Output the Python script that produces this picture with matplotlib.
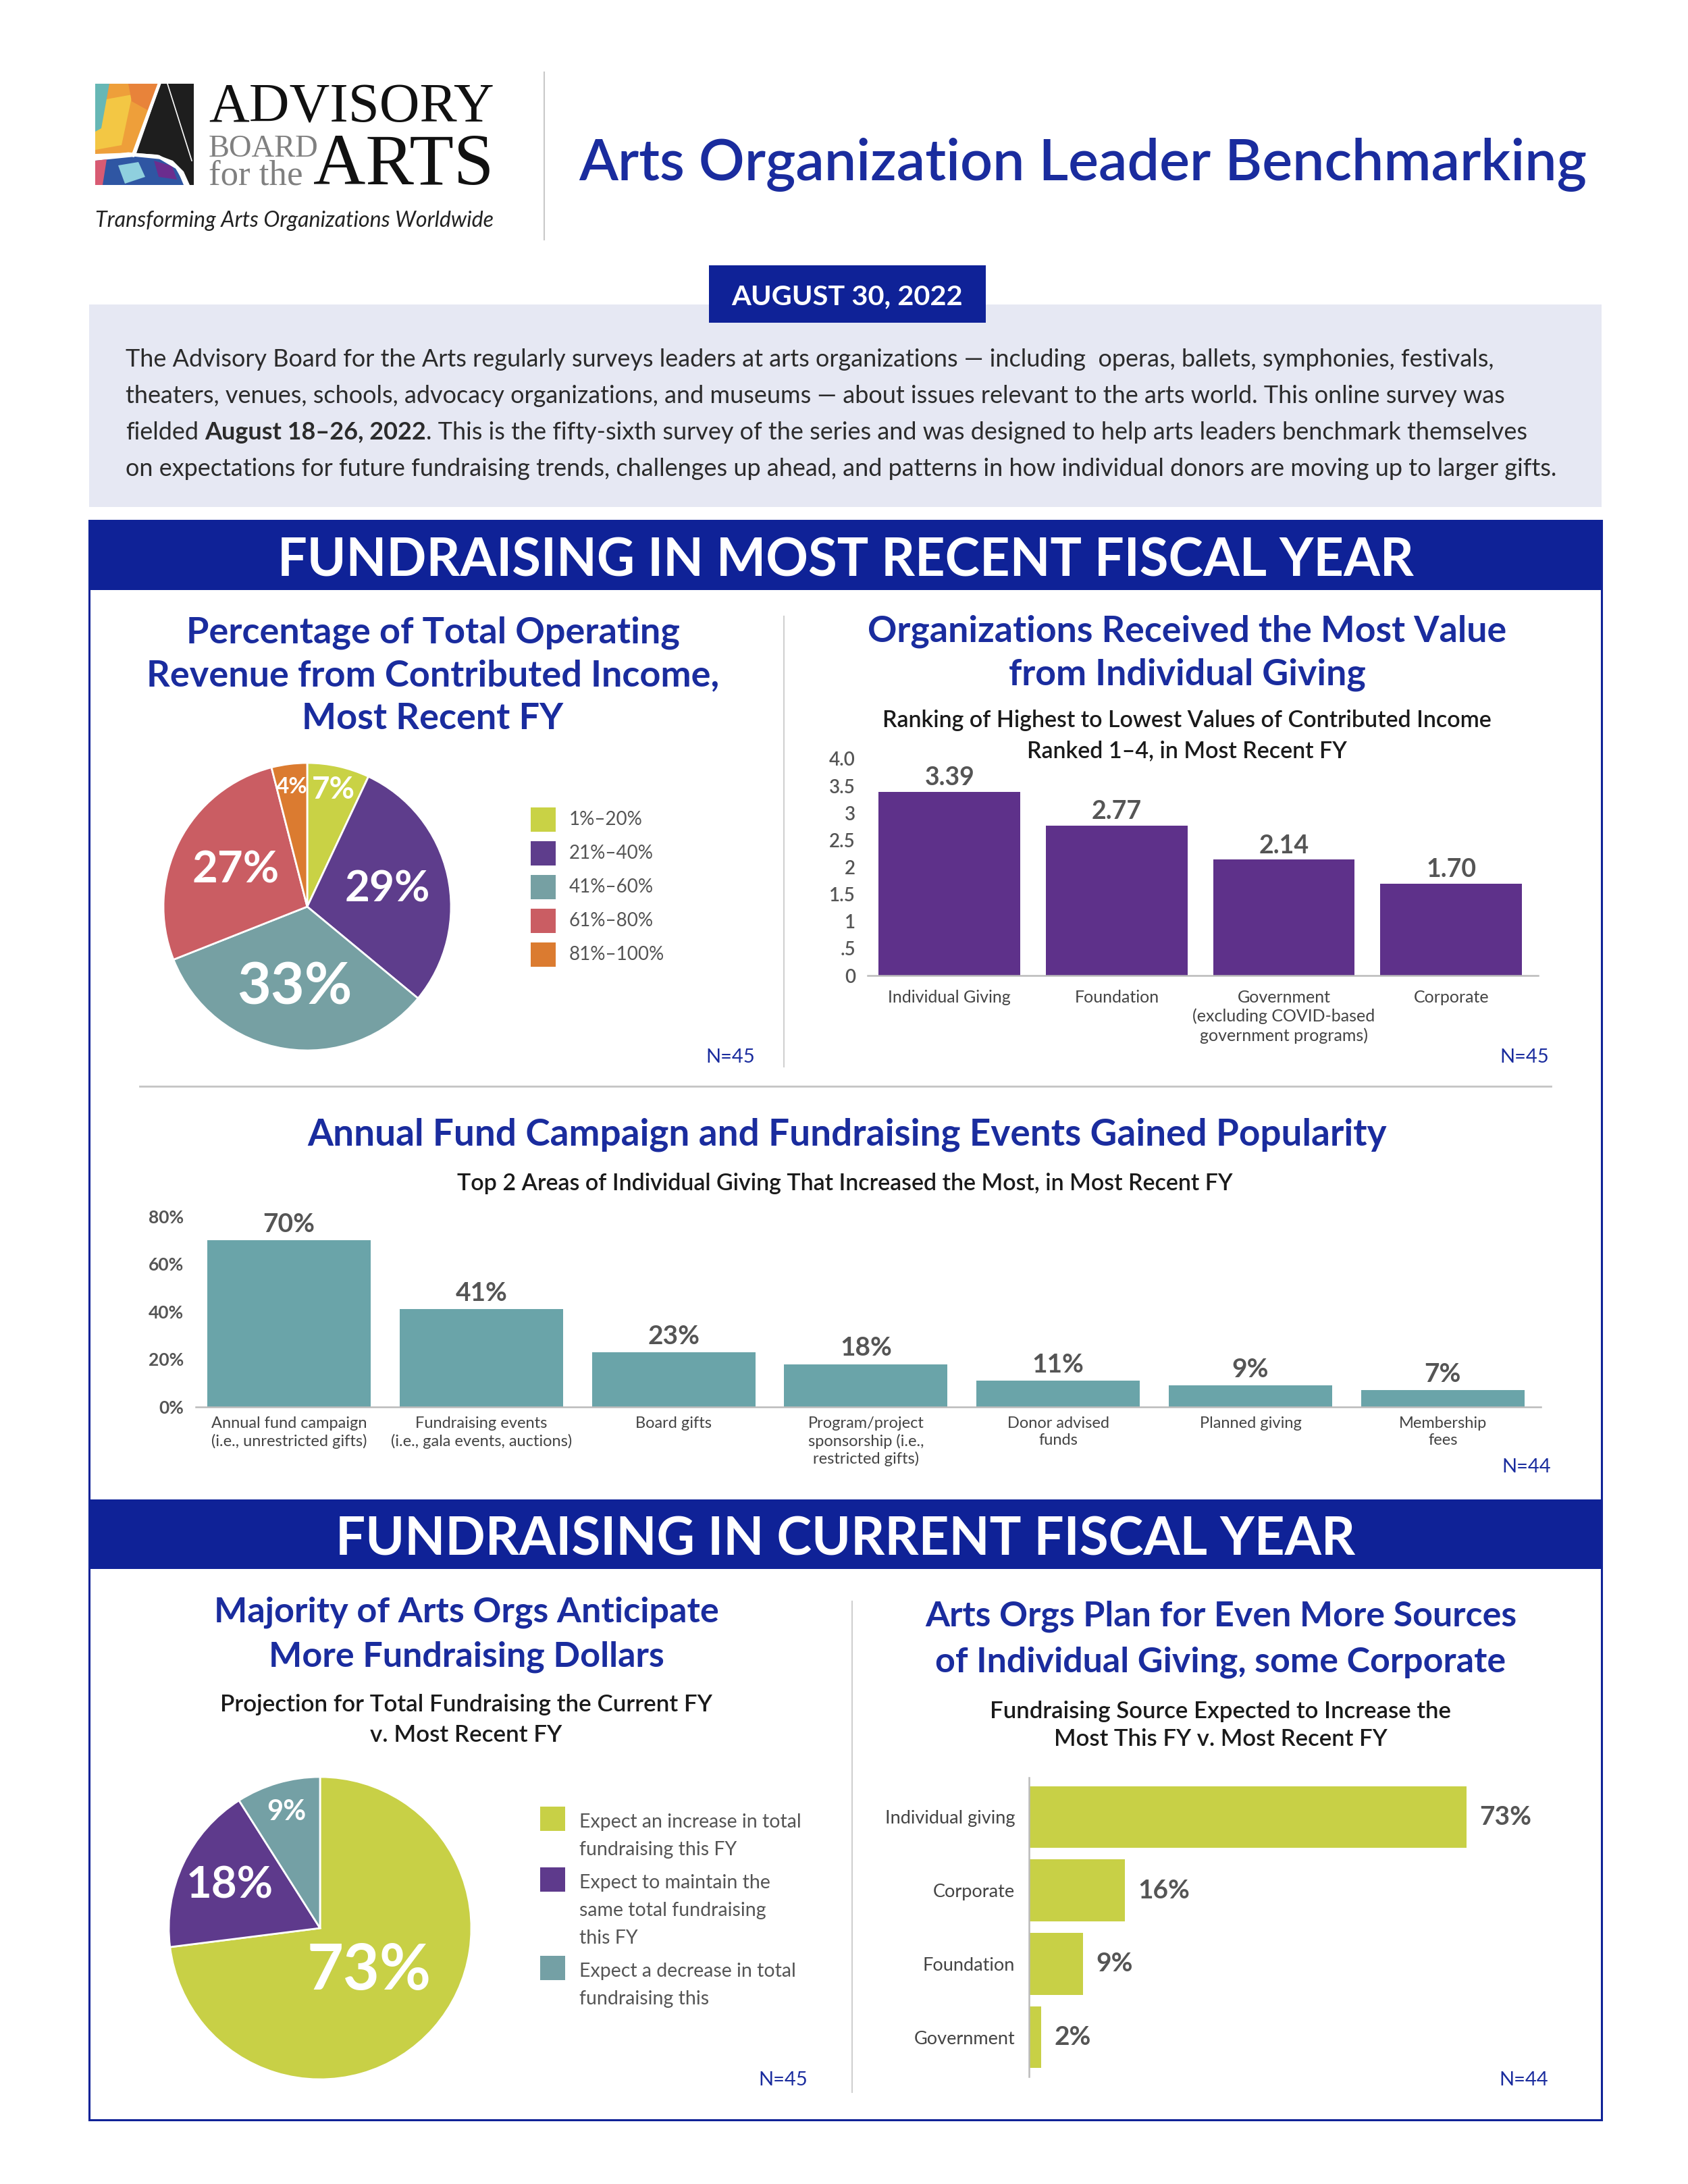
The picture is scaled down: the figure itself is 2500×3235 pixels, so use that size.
import matplotlib
matplotlib.use('Agg')
import matplotlib.pyplot as plt
from matplotlib.patches import Rectangle, Polygon
import numpy as np

plt.rcParams['font.family'] = ['Lato', 'DejaVu Sans']

W, H = 2500, 3235
BLUE = '#0F2297'
TBLUE = '#1A2C9E'
GRAY = '#555555'
LGRAY = '#444444'

# ---------------- data ----------------
pie1_labels = ['1%–20%', '21%–40%', '41%–60%', '61%–80%', '81%–100%']
pie1_values = [7, 29, 33, 27, 4]
pie1_colors = ['#C9D245', '#5E3D8C', '#76A0A3', '#CA5D63', '#DB7B30']

rank_cats = ['Individual Giving', 'Foundation',
             'Government\n(excluding COVID-based\ngovernment programs)', 'Corporate']
rank_values = [3.39, 2.77, 2.14, 1.70]
rank_ticks = [0, 0.5, 1, 1.5, 2, 2.5, 3, 3.5, 4.0]
rank_ticklabels = ['0', '.5', '1', '1.5', '2', '2.5', '3', '3.5', '4.0']

area_cats = ['Annual fund campaign\n(i.e., unrestricted gifts)',
             'Fundraising events\n(i.e., gala events, auctions)',
             'Board gifts',
             'Program/project\nsponsorship (i.e.,\nrestricted gifts)',
             'Donor advised\nfunds', 'Planned giving', 'Membership\nfees']
area_values = [70, 41, 23, 18, 11, 9, 7]
area_ticks = [0, 20, 40, 60, 80]
area_ticklabels = ['0%', '20%', '40%', '60%', '80%']

proj_labels = [['Expect an increase in total', 'fundraising this FY'],
               ['Expect to maintain the', 'same total fundraising', 'this FY'],
               ['Expect a decrease in total', 'fundraising this']]
proj_values = [73, 18, 9]
proj_colors = ['#C8D046', '#5E3A8C', '#74A0A5']

src_cats = ['Individual giving', 'Corporate', 'Foundation', 'Government']
src_values = [73, 16, 9, 2]

# ---------------- figure ----------------
fig = plt.figure(figsize=(W / 100, H / 100), dpi=100)
fig.patch.set_facecolor('white')
R = fig.canvas.get_renderer()

ax0 = fig.add_axes([0, 0, 1, 1], zorder=0)
ax0.set_xlim(0, W)
ax0.set_ylim(H, 0)
ax0.axis('off')


def px_axes(x0, y0, x1, y1):
    a = fig.add_axes([x0 / W, 1 - y1 / H, (x1 - x0) / W, (y1 - y0) / H], zorder=2)
    a.set_facecolor('none')
    return a


def fitted(lines, x, baselines, width, fit_idx=0, ha='center', **kw):
    ts = [ax0.text(x, b, s, ha=ha, va='baseline', fontsize=20, **kw)
          for s, b in zip(lines, baselines)]
    w = ts[fit_idx].get_window_extent(renderer=R).width
    fs = 20 * width / w
    for t in ts:
        t.set_fontsize(fs)
    return fs


# ---------------- logo ----------------
ax0.add_patch(Polygon([(141, 124), (236, 124), (199, 226), (141, 228)], fc='#EE9F3A', ec='none'))
ax0.add_patch(Polygon([(141, 150), (196, 140), (180, 215), (141, 222)], fc='#F3C744', ec='none'))
ax0.add_patch(Polygon([(141, 124), (162, 124), (150, 190), (141, 195)], fc='#66B7B5', ec='none'))
ax0.add_patch(Polygon([(190, 124), (236, 124), (222, 165), (195, 150)], fc='#E8833A', ec='none'))
ax0.add_patch(Polygon([(141, 238), (200, 232), (240, 236), (262, 250), (272, 274), (141, 274)], fc='#2F56A3', ec='none'))
ax0.add_patch(Polygon([(141, 238), (158, 236), (152, 274), (141, 274)], fc='#D85B73', ec='none'))
ax0.add_patch(Polygon([(175, 245), (205, 240), (215, 262), (185, 272)], fc='#8FD0DE', ec='none'))
ax0.add_patch(Polygon([(228, 238), (255, 246), (262, 266), (235, 262)], fc='#6B2D8E', ec='none'))
ax0.add_patch(Polygon([(238, 124), (287, 124), (287, 274), (281, 274), (272, 254), (256, 238),
                       (232, 229), (202, 227)], fc='#1E1E1E', ec='none'))
ax0.plot([236, 197], [124, 230], color='white', lw=3.5)
ax0.plot([248, 284], [124, 238], color='white', lw=1.2)
ax0.plot([141, 190, 235, 262, 277], [234, 228, 232, 248, 274], color='white', lw=3.5)

serif = ['Liberation Serif', 'DejaVu Serif']
fitted(['ADVISORY'], 309, [180], 423, ha='left', family=serif, color='#111111')
fitted(['BOARD'], 309, [232], 163, ha='left', family=serif, color='#808080')
fitted(['for the'], 309, [273], 139, ha='left', family=serif, color='#808080')
fitted(['ARTS'], 464, [273], 268, ha='left', family=serif, color='#111111')
fitted(['Transforming Arts Organizations Worldwide'], 141, [336], 591, ha='left',
       style='italic', color='#222222')

ax0.plot([806, 806], [107, 355], color='#C8C8C8', lw=1.5)

# ---------------- header ----------------
fitted(['Arts Organization Leader Benchmarking'], 857, [267], 1493, ha='left',
       color=TBLUE, weight='semibold')

ax0.add_patch(Rectangle((132, 451), 2240, 300, fc='#E6E8F3', ec='none'))
ax0.add_patch(Rectangle((1050, 393), 410, 85, fc=BLUE, ec='none', zorder=3))
fitted(['AUGUST 30, 2022'], 1255, [451], 342, color='white', weight='bold', zorder=4)

TXT = '#2b2b2b'
intro = [
    'The Advisory Board for the Arts regularly surveys leaders at arts organizations — including  operas, ballets, symphonies, festivals,',
    'theaters, venues, schools, advocacy organizations, and museums — about issues relevant to the arts world. This online survey was',
    None,
    'on expectations for future fundraising trends, challenges up ahead, and patterns in how individual donors are moving up to larger gifts.',
]
ibase = [543, 597, 651, 705]
ifs = fitted([intro[3]], 186, [ibase[3]], 2128, ha='left', color=TXT, weight='normal')
for s, b in zip(intro[:2], ibase[:2]):
    ax0.text(186, b, s, ha='left', va='baseline', fontsize=ifs, color=TXT, weight='normal')
# mixed-weight third line
segs = [('fielded', 'normal'), (' ', None), ('August 18–26, 2022', 'bold'),
        ('. This is the fifty-sixth survey of the series and was designed to help arts leaders benchmark themselves', 'normal')]
tA = ax0.text(0, 0, 'a a', fontsize=ifs, alpha=0)
tB = ax0.text(0, 0, 'aa', fontsize=ifs, alpha=0)
space_w = tA.get_window_extent(renderer=R).width - tB.get_window_extent(renderer=R).width
xcur = 186
for s, wgt in segs:
    if wgt is None:
        xcur += space_w
        continue
    t = ax0.text(xcur, ibase[2], s, ha='left', va='baseline', fontsize=ifs,
                 color=TXT, weight=wgt)
    xcur += t.get_window_extent(renderer=R).width

# ---------------- frame & banners ----------------
ax0.add_patch(Rectangle((132, 771), 2240, 2369, fc='none', ec=BLUE, lw=2.2))
ax0.add_patch(Rectangle((132, 771), 2240, 103, fc=BLUE, ec='none'))
ax0.add_patch(Rectangle((132, 2221), 2240, 103, fc=BLUE, ec='none'))
fitted(['FUNDRAISING IN MOST RECENT FISCAL YEAR'], 1252, [853], 1682, color='white', weight='bold')
fitted(['FUNDRAISING IN CURRENT FISCAL YEAR'], 1252, [2304], 1512, color='white', weight='bold')

ax0.plot([1161, 1161], [913, 1580], color='#D0D0D0', lw=1.5)
ax0.plot([207, 2297], [1609, 1609], color='#C4C4C4', lw=2)
ax0.plot([1262, 1262], [2372, 3099], color='#D0D0D0', lw=1.5)

# ---------------- titles ----------------
SUBW = 'semibold'
fitted(['Percentage of Total Operating', 'Revenue from Contributed Income,', 'Most Recent FY'],
       641, [952, 1016, 1080], 851, fit_idx=1, color=TBLUE, weight='bold')
fitted(['Organizations Received the Most Value', 'from Individual Giving'],
       1758, [950, 1015], 945, color=TBLUE, weight='bold')
fitted(['Ranking of Highest to Lowest Values of Contributed Income', 'Ranked 1–4, in Most Recent FY'],
       1758, [1077, 1122], 903, color='#1a1a1a', weight=SUBW)
fitted(['Annual Fund Campaign and Fundraising Events Gained Popularity'],
       1255, [1696], 1599, color=TBLUE, weight='bold')
fitted(['Top 2 Areas of Individual Giving That Increased the Most, in Most Recent FY'],
       1251, [1763], 1151, color='#1a1a1a', weight=SUBW)
fitted(['Majority of Arts Orgs Anticipate', 'More Fundraising Dollars'],
       691, [2402, 2468], 748, color=TBLUE, weight='bold')
fitted(['Projection for Total Fundraising the Current FY', 'v. Most Recent FY'],
       690, [2535, 2580], 730, color='#1a1a1a', weight=SUBW)
fitted(['Arts Orgs Plan for Even More Sources', 'of Individual Giving, some Corporate'],
       1808, [2409, 2476], 878, color=TBLUE, weight='bold')
fitted(['Fundraising Source Expected to Increase the', 'Most This FY v. Most Recent FY'],
       1808, [2545, 2586], 684, color='#1a1a1a', weight=SUBW)

for (x, y, s) in [(1082, 1566, 'N=45'), (2258, 1566, 'N=45'), (2261, 2173, 'N=44'),
                  (1160, 3081, 'N=45'), (2257, 3081, 'N=44')]:
    ax0.text(x, y, s, ha='center', va='center', fontsize=21, color=TBLUE)


# ---------------- pies ----------------
def draw_pie(cx, cy, r, values, colors, label_r, label_fs):
    ax = px_axes(cx - r, cy - r, cx + r, cy + r)
    ax.pie(values, colors=colors, startangle=90, counterclock=False, radius=1,
           wedgeprops=dict(edgecolor='white', linewidth=2))
    ax.set_xlim(-1.0, 1.0)
    ax.set_ylim(-1.0, 1.0)
    total = float(sum(values))
    cum = 0.0
    for v, lr, fs in zip(values, label_r, label_fs):
        mid = np.deg2rad(90 - 360 * (cum + v / 2) / total)
        cum += v
        ax.text(lr * np.cos(mid), lr * np.sin(mid), f'{v}%', ha='center', va='center',
                fontsize=fs, color='white', weight='bold')
    return ax


draw_pie(455, 1343, 213, pie1_values, pie1_colors,
         [0.83, 0.57, 0.57, 0.56, 0.84], [33, 46, 62, 47, 24])
for i, (lab, col) in enumerate(zip(pie1_labels, pie1_colors)):
    yc = 1214 + i * 50
    ax0.add_patch(Rectangle((786, yc - 18), 37, 36, fc=col, ec='none'))
    ax0.text(843, yc, lab, ha='left', va='center', fontsize=20, color=GRAY)

draw_pie(474, 2856, 224, proj_values, proj_colors, [0.43, 0.66, 0.80], [67, 47, 30])
top = 2676
for lines, col in zip(proj_labels, proj_colors):
    ax0.add_patch(Rectangle((800, top), 37, 36, fc=col, ec='none'))
    for j, s in enumerate(lines):
        ax0.text(858, top + 31 + j * 41, s, ha='left', va='baseline', fontsize=20.5, color=GRAY)
    top += len(lines) * 41 + 8

# ---------------- ranking bar chart ----------------
axr = px_axes(1285, 1124, 2278, 1445)
xr = np.arange(len(rank_values))
axr.bar(xr, rank_values, width=0.847, color='#5E318A')
axr.set_xlim(-0.49, 3.52)
axr.set_ylim(0, 4.0)
for s in ['top', 'right', 'left']:
    axr.spines[s].set_visible(False)
axr.spines['bottom'].set_color('#BBBBBB')
axr.spines['bottom'].set_linewidth(1.8)
axr.set_yticks(rank_ticks)
axr.set_yticklabels(rank_ticklabels)
axr.set_xticks(xr)
axr.set_xticklabels(rank_cats, linespacing=1.25)
axr.tick_params(axis='y', length=0, pad=13, labelsize=20, labelcolor=GRAY)
axr.tick_params(axis='x', length=0, pad=15, labelsize=18, labelcolor=LGRAY)
for lab in axr.get_yticklabels():
    lab.set_fontweight('semibold')
for xi, v in zip(xr, rank_values):
    axr.text(xi, v + 0.12, f'{v:.2f}', ha='center', va='baseline', fontsize=27,
             weight='bold', color=GRAY)

# ---------------- areas bar chart ----------------
axa = px_axes(290, 1802, 2282, 2084)
xa = np.arange(len(area_values))
axa.bar(xa, area_values, width=0.85, color='#6AA4A9')
axa.set_xlim(-0.485, 6.51)
axa.set_ylim(0, 80)
for s in ['top', 'right', 'left']:
    axa.spines[s].set_visible(False)
axa.spines['bottom'].set_color('#BBBBBB')
axa.spines['bottom'].set_linewidth(1.8)
axa.set_yticks(area_ticks)
axa.set_yticklabels(area_ticklabels)
axa.set_xticks(xa)
axa.set_xticklabels(area_cats, linespacing=1.25)
axa.tick_params(axis='y', length=0, pad=13, labelsize=19, labelcolor=GRAY)
axa.tick_params(axis='x', length=0, pad=10, labelsize=17, labelcolor=LGRAY)
for lab in axa.get_yticklabels():
    lab.set_fontweight('bold')
for xi, v in zip(xa, area_values):
    axa.text(xi, v + 3.5, f'{v}%', ha='center', va='baseline', fontsize=28,
             weight='bold', color=GRAY)

# ---------------- source horizontal bars ----------------
axs = px_axes(1524, 2633, 2262, 3076)
ys = np.arange(len(src_values))
axs.barh(ys, src_values, height=0.84, color='#C8D046')
axs.set_ylim(3.536, -0.536)
axs.set_xlim(0, 83.2)
for s in ['top', 'right', 'bottom']:
    axs.spines[s].set_visible(False)
axs.spines['left'].set_color('#BBBBBB')
axs.spines['left'].set_linewidth(1.8)
axs.set_xticks([])
axs.set_yticks(ys)
axs.set_yticklabels(src_cats)
axs.tick_params(axis='y', length=0, pad=15, labelsize=19.5, labelcolor=LGRAY)
for yi, v in zip(ys, src_values):
    axs.text(v + 2.2, yi, f'{v}%', ha='left', va='center', fontsize=28,
             weight='bold', color=GRAY)

fig.savefig('out.png', dpi=100, facecolor='white')
